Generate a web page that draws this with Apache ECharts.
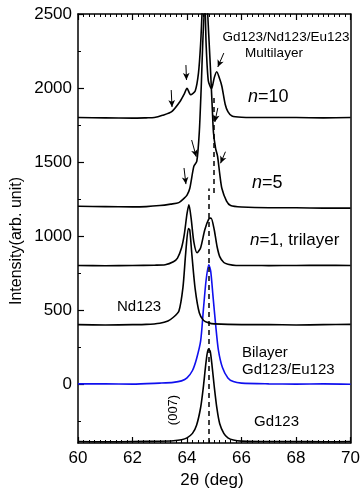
<!DOCTYPE html>
<html>
<head>
<meta charset="utf-8">
<script src="https://cdn.jsdelivr.net/npm/echarts@6/dist/echarts.min.js"></script>
<style>html,body{margin:0;padding:0;background:#fff}#c{width:363px;height:493px}</style>
</head>
<body>
<div id="c"></div>
<script>
// ---- data (2θ in deg, intensity in arb. unit) ----
const gd123 = [[60,-390],[61,-392],[62,-390],[63,-388],[63.5,-385],[63.8,-378],[64.0,-365],[64.2,-335],[64.35,-280],[64.5,-160],[64.6,-20],[64.7,150],[64.78,235],[64.85,220],[64.92,120],[65.0,-20],[65.1,-170],[65.2,-270],[65.35,-335],[65.5,-365],[65.7,-380],[66,-387],[67,-390],[68,-390],[69,-392],[70,-390]];
const bilayer = [[60,0],[61,0],[62,-2],[63,5],[63.5,10],[63.8,20],[64.0,40],[64.2,90],[64.35,170],[64.5,290],[64.6,500],[64.7,700],[64.8,805],[64.87,760],[64.95,600],[65.05,400],[65.15,230],[65.3,110],[65.5,40],[65.7,15],[66,5],[67,0],[68,-2],[69,0],[70,-3]];
const nd123 = [[60,400],[61,398],[62,400],[62.5,402],[63,410],[63.3,425],[63.5,450],[63.7,490],[63.85,650],[63.95,880],[64.05,1050],[64.1,1040],[64.18,870],[64.3,640],[64.45,480],[64.6,430],[64.8,412],[65,405],[66,400],[67,400],[68,398],[69,400],[70,402]];
const trilayer = [[60,800],[61,798],[62,800],[62.8,802],[63.2,805],[63.5,825],[63.65,850],[63.8,920],[63.9,1010],[64.0,1150],[64.07,1210],[64.15,1120],[64.25,960],[64.37,886],[64.5,920],[64.65,1040],[64.8,1115],[64.88,1120],[65.0,1040],[65.1,930],[65.2,860],[65.35,820],[65.5,808],[65.8,800],[66.5,800],[67,799],[68,800],[69,801],[70,800]];
const n5 = [[60,1200],[61,1198],[62,1196],[62.5,1198],[63,1205],[63.4,1215],[63.7,1225],[63.9,1255],[64.0,1275],[64.1,1320],[64.25,1470],[64.36,1505],[64.45,1700],[64.52,2000],[64.6,2400],[64.7,2650],[64.8,2350],[64.88,2050],[64.93,1850],[64.97,1700],[65.05,1590],[65.12,1540],[65.2,1420],[65.28,1320],[65.45,1235],[65.6,1205],[66,1195],[67,1190],[68,1190],[69,1188],[70,1188]];
const n10 = [[60,1800],[61,1798],[62,1796],[62.5,1798],[62.8,1800],[63.1,1815],[63.45,1842],[63.75,1910],[63.9,1960],[64.0,1998],[64.13,1955],[64.3,1980],[64.42,2100],[64.5,2300],[64.58,2600],[64.64,2650],[64.7,2300],[64.78,2050],[64.9,1995],[65.0,2070],[65.09,2110],[65.2,2060],[65.28,2010],[65.4,1890],[65.5,1840],[65.65,1810],[66,1802],[67,1800],[68,1800],[69,1798],[70,1800]];

// dashed reference lines [x, yFrom, yTo]
const refLines = [[64.8,-400,1320],[64.98,1290,1950]];
// arrows [x1,y1,x2,y2] (tail -> head)
const arrows = [[63.42,1986,63.45,1871],[63.96,2155,63.98,2054],[65.35,2236,65.13,2142],[65.13,1865,65.02,1770],[63.89,1459,63.96,1350],[64.17,1648,64.34,1535],[65.41,1569,65.23,1491]];

const xTicks = [60,62,64,66,68,70];
const yMajor = [0,500,1000,1500,2000,2500];
const yMinor = [-250,250,750,1250,1750,2250];

const FONT = '"Liberation Sans", Arial, sans-serif';
const chart = echarts.init(document.getElementById('c'), null, {renderer:'canvas'});

function curve(name, data, color, extra) {
  return Object.assign({
    name, type:'line', data, symbol:'none', smooth:0.25, clip:true,
    lineStyle:{color, width:1.6}, animation:false, z:3
  }, extra||{});
}
const fmt = v => String(v);

const option = {
  animation:false,
  grid:{left:78, right:10, top:14, bottom:50},
  xAxis:[
    {type:'value', min:60, max:70, interval:2,
     axisLine:{onZero:false, lineStyle:{color:'#000', width:1.5}},
     axisTick:{inside:true, length:6, lineStyle:{color:'#000', width:1.2}},
     minorTick:{show:true, splitNumber:10, length:3, lineStyle:{color:'#000', width:1}},
     splitLine:{show:false},
     axisLabel:{color:'#000', fontSize:17, fontFamily:FONT, margin:7, customValues:xTicks, formatter:fmt}},
    {type:'value', min:60, max:70, interval:2, position:'top',
     axisLine:{onZero:false, lineStyle:{color:'#000', width:1.5}},
     axisTick:{inside:true, length:6, lineStyle:{color:'#000', width:1.2}},
     minorTick:{show:true, splitNumber:10, length:3, lineStyle:{color:'#000', width:1}},
     splitLine:{show:false}, axisLabel:{show:false}}
  ],
  yAxis:[
    {type:'value', min:-400, max:2500,
     axisLine:{onZero:false, lineStyle:{color:'#000', width:1.5}},
     axisTick:{inside:true, length:6, customValues:yMajor, lineStyle:{color:'#000', width:1.2}},
     splitLine:{show:false},
     axisLabel:{color:'#000', fontSize:17, fontFamily:FONT, margin:6, customValues:yMajor, formatter:fmt}},
    {type:'value', min:-400, max:2500, position:'left', offset:0,
     axisLine:{show:false, onZero:false},
     axisTick:{inside:true, length:3, customValues:yMinor, lineStyle:{color:'#000', width:1}},
     splitLine:{show:false}, axisLabel:{show:false}},
    {type:'value', min:-400, max:2500, position:'right',
     axisLine:{show:true, onZero:false, lineStyle:{color:'#000', width:1.5}},
     axisTick:{show:false}, splitLine:{show:false}, axisLabel:{show:false}}
  ],
  series:[
    curve('Gd123', gd123, '#000', {markLine:{
      silent:true, symbol:'none', animation:false, label:{show:false},
      lineStyle:{color:'#000', type:[5,4], width:1.5},
      data: refLines.map(r => [{coord:[r[0], r[1]]},{coord:[r[0], r[2]]}])
    }}),
    curve('Bilayer', bilayer, '#1010ee'),
    curve('Nd123', nd123, '#000'),
    curve('n=1', trilayer, '#000'),
    curve('n=5', n5, '#000'),
    curve('n=10', n10, '#000', {markLine:{
      silent:true, symbol:['none','arrow'], symbolSize:[5,7], animation:false, label:{show:false},
      lineStyle:{color:'#000', type:'solid', width:1},
      data: arrows.map(a => [{coord:[a[0], a[1]]},{coord:[a[2], a[3]]}])
    }})
  ],
  graphic:[
    {type:'text', x:17, y:241, rotation:Math.PI/2, style:{text:'Intensity(arb. unit)', font:'16px '+FONT, fill:'#000', textAlign:'center', textVerticalAlign:'middle'}},
    {type:'text', x:212, y:480, style:{text:'2θ (deg)', font:'17px '+FONT, fill:'#000', textAlign:'center', textVerticalAlign:'middle'}},
    {type:'text', x:286, y:37, style:{text:'Gd123/Nd123/Eu123', font:'13.5px '+FONT, fill:'#000', textAlign:'center', textVerticalAlign:'middle'}},
    {type:'text', x:274, y:53, style:{text:'Multilayer', font:'13.5px '+FONT, fill:'#000', textAlign:'center', textVerticalAlign:'middle'}},
    {type:'text', x:248, y:97, style:{rich:{i:{fontStyle:'italic', fontSize:18, fontFamily:FONT}, r:{fontSize:18, fontFamily:FONT}}, text:'{i|n}{r|=10}', fill:'#000', textVerticalAlign:'middle'}},
    {type:'text', x:252, y:183, style:{rich:{i:{fontStyle:'italic', fontSize:18, fontFamily:FONT}, r:{fontSize:18, fontFamily:FONT}}, text:'{i|n}{r|=5}', fill:'#000', textVerticalAlign:'middle'}},
    {type:'text', x:250, y:240, style:{rich:{i:{fontStyle:'italic', fontSize:17, fontFamily:FONT}, r:{fontSize:17, fontFamily:FONT}}, text:'{i|n}{r|=1, trilayer}', fill:'#000', textVerticalAlign:'middle'}},
    {type:'text', x:117, y:307, style:{text:'Nd123', font:'15px '+FONT, fill:'#000', textAlign:'left', textVerticalAlign:'middle'}},
    {type:'text', x:242, y:353, style:{text:'Bilayer', font:'15px '+FONT, fill:'#000', textAlign:'left', textVerticalAlign:'middle'}},
    {type:'text', x:242, y:370, style:{text:'Gd123/Eu123', font:'15px '+FONT, fill:'#000', textAlign:'left', textVerticalAlign:'middle'}},
    {type:'text', x:254, y:422, style:{text:'Gd123', font:'15px '+FONT, fill:'#000', textAlign:'left', textVerticalAlign:'middle'}},
    {type:'text', x:173, y:410, rotation:Math.PI/2, style:{text:'(007)', font:'13px '+FONT, fill:'#000', textAlign:'center', textVerticalAlign:'middle'}}
  ]
};
chart.setOption(option);
</script>
</body>
</html>
